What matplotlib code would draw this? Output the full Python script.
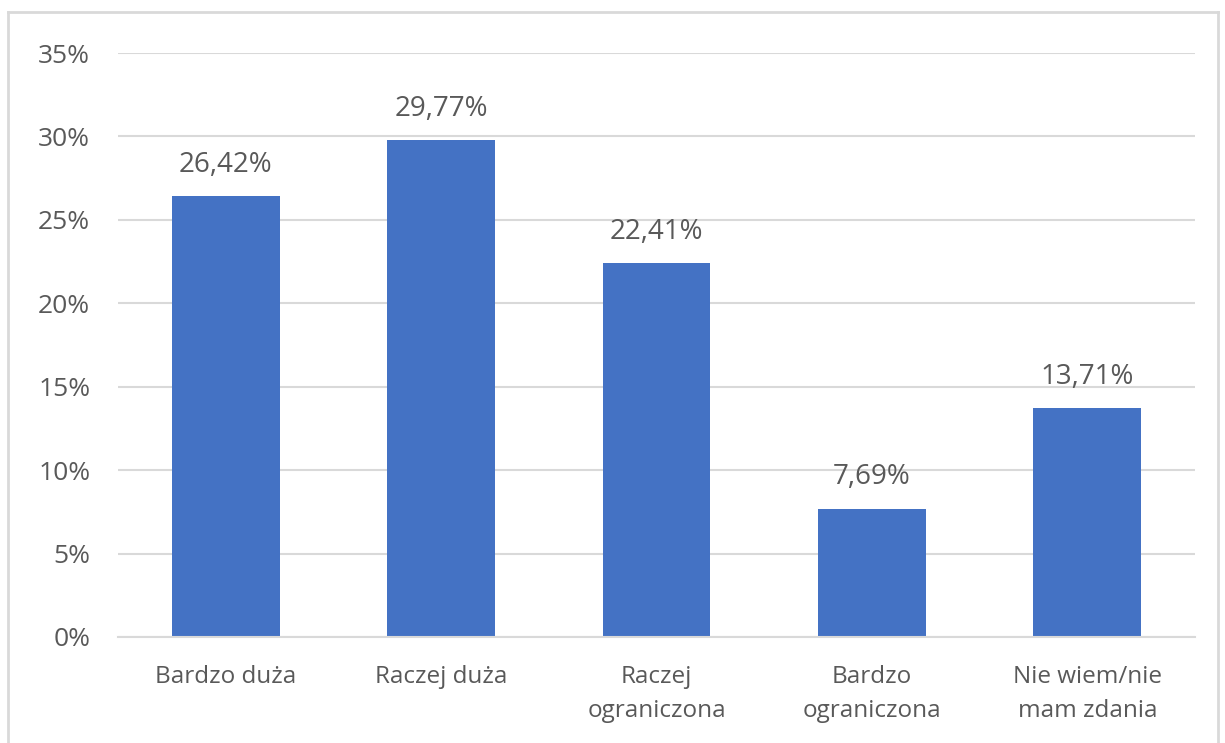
import matplotlib
matplotlib.use("Agg")
import matplotlib.pyplot as plt
from matplotlib.lines import Line2D

# dane
categories = ["Bardzo duża", "Raczej duża", "Raczej\nograniczona", "Bardzo\nograniczona", "Nie wiem/nie\nmam zdania"]
values = [26.42, 29.77, 22.41, 7.69, 13.71]
yticks = [0, 5, 10, 15, 20, 25, 30, 35]

BAR_COLOR = "#4472c4"
TEXT_COLOR = "#595959"
GRID_COLOR = "#d9d9d9"

plt.rcParams["font.family"] = ["Open Sans", "DejaVu Sans"]

W, H = 1225, 743
fig = plt.figure(figsize=(W / 100, H / 100), dpi=100)
ax = fig.add_axes([118 / W, 1 - 637 / H, (1195 - 118) / W, (637 - 53) / H])

x = list(range(len(categories)))
ax.bar(x, values, width=0.5, color=BAR_COLOR, zorder=3)

for xi, v in zip(x, values):
    label = f"{v:.2f}%".replace(".", ",")
    ax.annotate(label, (xi, v), xytext=(0, 12.5), textcoords="offset points",
                ha="center", va="bottom", fontsize=20, color=TEXT_COLOR)

ax.set_xlim(-0.5, len(categories) - 0.5)
ax.set_ylim(0, 35)
ax.set_yticks(yticks)
ax.set_yticklabels([f"{t}%" for t in yticks])
ax.set_xticks(x)
ax.set_xticklabels(categories, linespacing=1.55)

ax.grid(axis="y", color=GRID_COLOR, linewidth=1.5, zorder=0)
for side in ["top", "right", "left"]:
    ax.spines[side].set_visible(False)
ax.spines["bottom"].set_color(GRID_COLOR)
ax.spines["bottom"].set_linewidth(1.5)
ax.spines["bottom"].set_zorder(4)

ax.tick_params(axis="y", length=0, pad=20, labelsize=19, labelcolor=TEXT_COLOR)
ax.tick_params(axis="x", length=0, pad=20, labelsize=17.5, labelcolor=TEXT_COLOR)

# ramka wykresu
bx0, by0, bx1 = 8 / W, 1 - 12 / H, 1218 / W
for xs, ys in [([bx0, bx0], [0, by0]), ([bx0, bx1], [by0, by0]), ([bx1, bx1], [by0, 0])]:
    fig.add_artist(Line2D(xs, ys, color=GRID_COLOR, linewidth=2, transform=fig.transFigure))

fig.savefig("out.png", dpi=100)
